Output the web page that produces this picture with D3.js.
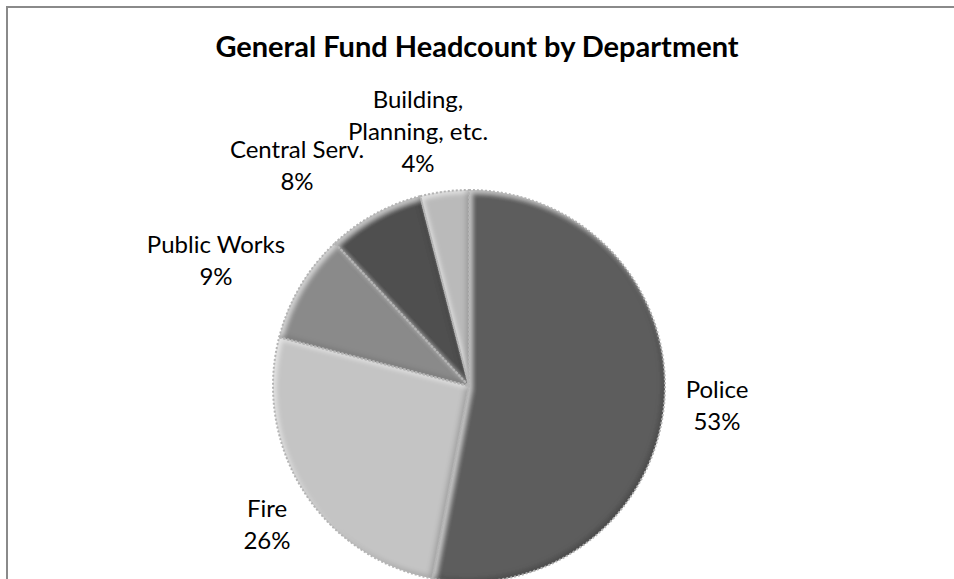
<!DOCTYPE html>
<html>
<head>
<meta charset="utf-8">
<script src="https://cdn.jsdelivr.net/npm/d3@7"></script>
<style>
  html, body { margin: 0; padding: 0; background: #fff; overflow: hidden; }
  svg { display: block; }
  text { font-family: Lato, "Open Sans", sans-serif; fill: #000; }
</style>
</head>
<body>
<svg id="chart" width="954" height="579"></svg>
<script>
// Headcount share by department (percent of General Fund)
const departments = ["Police", "Fire", "Public Works", "Central Serv.", "Building,\nPlanning, etc."];
const shares = [53, 26, 9, 8, 4];
const sliceColors = ["#5d5d5d", "#c4c4c4", "#8a8a8a", "#505050", "#bababa"];
const chartTitle = "General Fund Headcount by Department";

const W = 954, H = 579;
const svg = d3.select("#chart");

// chart frame
svg.append("rect")
  .attr("x", 7).attr("y", 7)
  .attr("width", W + 20).attr("height", H + 20)
  .attr("fill", "#fff")
  .attr("stroke", "#8a8a8a")
  .attr("stroke-width", 2);

svg.append("text")
  .attr("x", 477).attr("y", 57)
  .attr("text-anchor", "middle")
  .attr("font-size", 29)
  .attr("font-weight", "bold")
  .text(chartTitle);

const cx = 469, cy = 386, R = 196;

const data = departments.map((d, i) => ({ name: d, value: shares[i], color: sliceColors[i] }));
const pie = d3.pie().sort(null).value(d => d.value).startAngle(0).endAngle(2 * Math.PI);
const arcs = pie(data);
const arc = d3.arc().innerRadius(0).outerRadius(R);

const defs = svg.append("defs");
// rounded-bevel look: light band on the upper-left edges, shade on the lower-right
const bevel = defs.append("filter").attr("id", "bevel")
  .attr("x", "-5%").attr("y", "-5%").attr("width", "110%").attr("height", "110%");
bevel.append("feGaussianBlur").attr("in", "SourceAlpha").attr("stdDeviation", 2.5).attr("result", "blur");
bevel.append("feOffset").attr("in", "blur").attr("dx", 3).attr("dy", 3).attr("result", "offA");
bevel.append("feComposite").attr("in", "SourceAlpha").attr("in2", "offA").attr("operator", "out").attr("result", "bandA");
bevel.append("feFlood").attr("flood-color", "#ffffff").attr("flood-opacity", 0.55).attr("result", "white");
bevel.append("feComposite").attr("in", "white").attr("in2", "bandA").attr("operator", "in").attr("result", "hl");
bevel.append("feOffset").attr("in", "blur").attr("dx", -3).attr("dy", -3).attr("result", "offB");
bevel.append("feComposite").attr("in", "SourceAlpha").attr("in2", "offB").attr("operator", "out").attr("result", "bandB");
bevel.append("feFlood").attr("flood-color", "#000000").attr("flood-opacity", 0.35).attr("result", "black");
bevel.append("feComposite").attr("in", "black").attr("in2", "bandB").attr("operator", "in").attr("result", "sh");
const merge = bevel.append("feMerge");
merge.append("feMergeNode").attr("in", "SourceGraphic");
merge.append("feMergeNode").attr("in", "hl");
merge.append("feMergeNode").attr("in", "sh");

const g = svg.append("g").attr("transform", `translate(${cx},${cy})`);

g.selectAll("path.slice")
  .data(arcs)
  .join("path")
  .attr("class", "slice")
  .attr("d", arc)
  .attr("fill", d => d.data.color)
  .attr("filter", "url(#bevel)");

// dotted slice outlines
g.selectAll("path.edge")
  .data(arcs)
  .join("path")
  .attr("class", "edge")
  .attr("d", arc)
  .attr("fill", "none")
  .attr("stroke", "#b4b4b4")
  .attr("stroke-width", 2)
  .attr("stroke-dasharray", "2,2");

// data labels: name and percentage
const labelPos = [
  { x: 717, y: 398 },
  { x: 267, y: 517 },
  { x: 216, y: 253 },
  { x: 297, y: 158 },
  { x: 418, y: 108 }
];
const lineGap = 32;

arcs.forEach((a, i) => {
  const lines = a.data.name.split("\n").concat([a.data.value + "%"]);
  const t = svg.append("text")
    .attr("text-anchor", "middle")
    .attr("font-size", 24);
  lines.forEach((ln, j) => {
    t.append("tspan")
      .attr("x", labelPos[i].x)
      .attr("y", labelPos[i].y + j * lineGap)
      .text(ln);
  });
});
</script>
</body>
</html>
